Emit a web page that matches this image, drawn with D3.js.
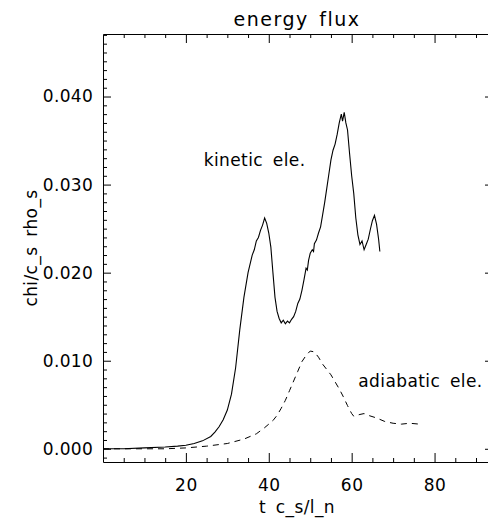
<!DOCTYPE html>
<html>
<head>
<meta charset="utf-8">
<script src="https://cdn.jsdelivr.net/npm/d3@7"></script>
<style>
  body { margin: 0; background: #fff; }
  text { font-family: "DejaVu Sans", sans-serif; fill: #000; }
</style>
</head>
<body>
<div id="chart"></div>
<script>
//***************** data *******************/
// kinetic electrons (solid)
var kinT = [0, 5, 10, 15, 18, 20, 22, 24, 26, 27, 28, 29, 30, 31, 32, 33, 34, 35, 36, 36.5, 37, 37.5, 38, 38.5, 39,
  39.5, 40, 40.5, 41, 41.5, 42, 42.5, 43, 43.5, 44, 44.5, 45, 45.5, 46, 46.5, 47, 47.5, 48, 48.5, 49, 49.3, 49.6, 50,
  50.5, 50.8, 51, 51.5, 52, 52.5, 53, 53.5, 54, 54.5, 55, 55.5, 56, 56.5, 57, 57.5, 57.8, 58.2, 58.6, 59, 59.5, 60,
  60.5, 61, 61.5, 62, 62.5, 63, 63.5, 64, 64.5, 65, 65.5, 66, 66.5, 66.8];
var kinV = [0, 0, 0.0001, 0.0002, 0.0003, 0.0004, 0.0006, 0.0009, 0.0014, 0.0019, 0.0025, 0.0033, 0.0044, 0.0062, 0.0092, 0.0135, 0.0172, 0.0200, 0.0220, 0.0226, 0.0236, 0.0240, 0.0248, 0.0254, 0.0262,
  0.0256, 0.0245, 0.0229, 0.0200, 0.0172, 0.0156, 0.0148, 0.0143, 0.0146, 0.0142, 0.0145, 0.0143, 0.0147, 0.0150, 0.0156, 0.0165, 0.0170, 0.0180, 0.0192, 0.0205, 0.0203, 0.0214, 0.0222,
  0.0226, 0.0224, 0.0233, 0.0237, 0.0245, 0.0252, 0.0266, 0.0280, 0.0296, 0.0312, 0.0328, 0.0339, 0.0346, 0.0357, 0.0370, 0.0380, 0.0372, 0.0382, 0.0370, 0.0362, 0.0335, 0.0310,
  0.0290, 0.0262, 0.0243, 0.0232, 0.0236, 0.0226, 0.0232, 0.0238, 0.0249, 0.0259, 0.0265, 0.0255, 0.0238, 0.0224];

// adiabatic electrons (dashed)
var adiT = [0, 15, 20, 25, 30, 34, 37, 39, 41, 42, 43, 44, 45, 46, 47, 48, 49, 50, 51, 52, 53, 54, 55, 56, 57, 58, 59,
  60, 60.5, 62, 63, 64, 66, 68, 70, 72, 74, 76.4];
var adiV = [0, 0, 0.0001, 0.0003, 0.0006, 0.0011, 0.0017, 0.0024, 0.0032, 0.0038, 0.0046, 0.0055, 0.0066, 0.0077, 0.0088, 0.0099, 0.0106, 0.0111, 0.0110, 0.0104, 0.0096, 0.0090, 0.0084, 0.0076, 0.0068, 0.0059, 0.0049,
  0.0040, 0.0037, 0.0039, 0.0040, 0.0038, 0.0035, 0.0031, 0.0029, 0.0028, 0.0029, 0.0028];

var xTicks = [20, 40, 60, 80];
var yTicks = [0, 0.01, 0.02, 0.03, 0.04];

//************* set dimensions ***************/
var W = 488, H = 519;
var margin = {left: 103, top: 34, right: -5, bottom: 57};
var width = W - margin.left - margin.right,
    height = H - margin.top - margin.bottom;

var svg = d3.select("#chart")
  .append("svg")
    .attr("width", W)
    .attr("height", H)
  .append("g")
    .attr("transform", "translate(" + margin.left + "," + margin.top + ")");

//***************** scales *******************/
var x = d3.scaleLinear().domain([0, 94.1]).range([0, width]);
var y = d3.scaleLinear().domain([-0.0015, 0.0471]).range([height, 0]);

// minor ticks
var xMinor = d3.range(5, 95, 5).filter(function(d) { return d % 20 != 0; });
var yMinor = d3.range(-1, 48).map(function(d) { return d / 1000; })
  .filter(function(d) { return Math.round(d * 1000) % 10 != 0; });

var axisStyle = function(g) {
  g.select(".domain").attr("stroke", "#000").attr("stroke-width", 1);
  g.selectAll(".tick line").attr("stroke", "#000");
};

//***************** axes *******************/
// bottom / top (major)
svg.append("g")
  .attr("transform", "translate(0," + height + ")")
  .call(d3.axisBottom(x).tickValues(xTicks).tickSizeInner(-9).tickSizeOuter(0).tickPadding(17))
  .call(axisStyle)
  .selectAll("text").attr("font-size", "17px").attr("font-family", "DejaVu Sans")
  .attr("letter-spacing", "0.5px");
svg.append("g")
  .attr("transform", "translate(0," + height + ")")
  .call(d3.axisBottom(x).tickValues(xMinor).tickSize(-4).tickFormat(""))
  .call(axisStyle).select(".domain").remove();

svg.append("g")
  .call(d3.axisTop(x).tickValues(xTicks).tickSizeInner(-9).tickSizeOuter(0).tickFormat(""))
  .call(axisStyle);
svg.append("g")
  .call(d3.axisTop(x).tickValues(xMinor).tickSize(-4).tickFormat(""))
  .call(axisStyle).select(".domain").remove();

// left / right
svg.append("g")
  .call(d3.axisLeft(y).tickValues(yTicks).tickSizeInner(-8).tickSizeOuter(0).tickPadding(10)
    .tickFormat(d3.format(".3f")))
  .call(axisStyle)
  .selectAll("text").attr("font-size", "17px").attr("font-family", "DejaVu Sans")
  .attr("letter-spacing", "0.3px");
svg.append("g")
  .call(d3.axisLeft(y).tickValues(yMinor).tickSize(-4).tickFormat(""))
  .call(axisStyle).select(".domain").remove();

svg.append("g")
  .attr("transform", "translate(" + width + ",0)")
  .call(d3.axisRight(y).tickValues(yTicks).tickSizeInner(-8).tickSizeOuter(0).tickFormat(""))
  .call(axisStyle);
svg.append("g")
  .attr("transform", "translate(" + width + ",0)")
  .call(d3.axisRight(y).tickValues(yMinor).tickSize(-4).tickFormat(""))
  .call(axisStyle).select(".domain").remove();

//***************** lines *******************/
var line = d3.line()
  .x(function(d) { return x(d[0]); })
  .y(function(d) { return y(d[1]); });

svg.append("path")
  .datum(d3.zip(kinT, kinV))
  .attr("fill", "none")
  .attr("stroke", "#000")
  .attr("stroke-width", 1.1)
  .attr("d", line);

svg.append("path")
  .datum(d3.zip(adiT, adiV))
  .attr("fill", "none")
  .attr("stroke", "#000")
  .attr("stroke-width", 1)
  .attr("stroke-dasharray", "6,5")
  .attr("d", line);

//***************** labels *******************/
svg.append("text")
  .attr("x", x(24.3)).attr("y", y(0.0321))
  .attr("font-size", "17px")
  .attr("letter-spacing", "0.4px")
  .attr("word-spacing", "4px")
  .text("kinetic ele.");

svg.append("text")
  .attr("x", x(61.6)).attr("y", y(0.0070))
  .attr("font-size", "17px")
  .attr("letter-spacing", "0.4px")
  .attr("word-spacing", "4px")
  .text("adiabatic ele.");

// title
svg.append("text")
  .attr("x", 297 - margin.left)
  .attr("y", -8)
  .attr("text-anchor", "middle")
  .attr("font-size", "19px")
  .attr("letter-spacing", "1.5px")
  .attr("word-spacing", "3px")
  .text("energy flux");

// x label
svg.append("text")
  .attr("x", 297 - margin.left)
  .attr("y", height + 51)
  .attr("text-anchor", "middle")
  .attr("font-size", "17px")
  .attr("letter-spacing", "0.4px")
  .attr("word-spacing", "4px")
  .text("t c_s/l_n");

// y label
svg.append("text")
  .attr("transform", "rotate(-90)")
  .attr("x", -(height / 2))
  .attr("y", -66)
  .attr("text-anchor", "middle")
  .attr("font-size", "17px")
  .attr("letter-spacing", "0.4px")
  .attr("word-spacing", "4px")
  .text("chi/c_s rho_s");
</script>
</body>
</html>
